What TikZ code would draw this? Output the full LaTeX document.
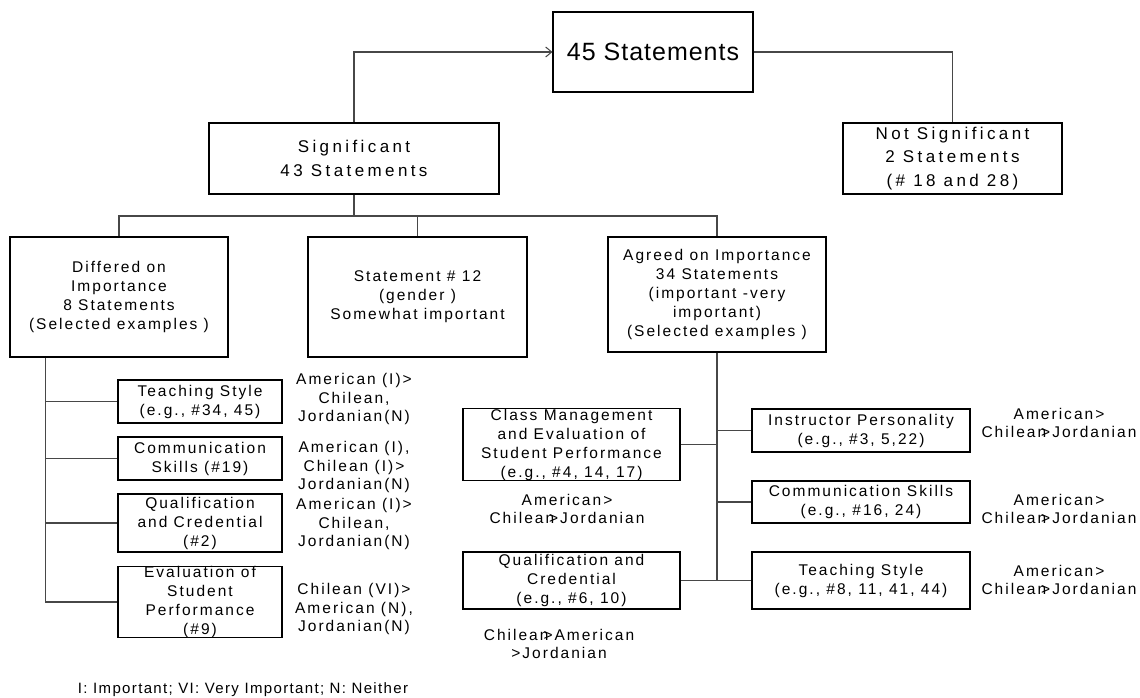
\documentclass[tikz,border=0pt]{standalone}
\usepackage{fontspec}
\setmainfont{Liberation Sans}
\newfontfamily\ftop[LetterSpace=4]{Liberation Sans}
\newfontfamily\fmid[LetterSpace=20]{Liberation Sans}
\newfontfamily\fsml[LetterSpace=13]{Liberation Sans}
\newfontfamily\ffoot[LetterSpace=9]{Liberation Sans}
\usetikzlibrary{arrows.meta}
\begin{document}
\begin{tikzpicture}[x=1pt,y=-1pt,
  box/.style={draw=black,line width=1.1pt,inner sep=0pt,align=center,
    font={\fsml\fontsize{15.5}{19}\selectfont}},
  bigbox/.style={box,font={\fmid\fontsize{17}{23.5}\selectfont}},
  lbl/.style={inner sep=0pt,align=center,font={\fsml\fontsize{15.5}{18.5}\selectfont}},
  conn/.style={draw=black!72,line width=1.3pt}]
\useasboundingbox (0,0) rectangle (1140,698);

% top level
\node[box,minimum width=200,minimum height=80,font={\ftop\fontsize{25}{28}\selectfont}] (top) at (653,52) {45 Statements};
\node[bigbox,minimum width=290,minimum height=71] (sig) at (354,158.5) {Significant\\43 Statements};
\node[bigbox,minimum width=219,minimum height=71] (notsig) at (952.5,158.5) {Not Significant\\2 Statements\\(\# 18 and 28)};

% second level
\node[box,minimum width=218,minimum height=120] (diff) at (119,297) {Differed on\\Importance\\8 Statements\\(Selected examples )};
\node[box,minimum width=219,minimum height=120] (stmt) at (417.5,297) {Statement \# 12\\(gender )\\Somewhat important};
\node[box,minimum width=218,minimum height=115] (agree) at (717,294.5) {Agreed on Importance\\34 Statements\\(important -very\\important)\\(Selected examples )};

% left branch
\node[box,minimum width=164,minimum height=43] (ts) at (200,401.5) {Teaching Style\\(e.g., \#34, 45)};
\node[box,minimum width=164,minimum height=43] (cs) at (200,458.5) {Communication\\Skills (\#19)};
\node[box,minimum width=164,minimum height=58] (qc) at (200,523) {Qualification\\and Credential\\(\#2)};
\node[box,minimum width=164,minimum height=70] (ev) at (200,602) {Evaluation of\\Student\\Performance\\(\#9)};

% right branch
\node[box,minimum width=217,minimum height=71] (cm) at (571.5,444.5) {Class Management\\and Evaluation of\\Student Performance\\(e.g., \#4, 14, 17)};
\node[box,minimum width=217,minimum height=57] (qc2) at (571.5,580.5) {Qualification and\\Credential\\(e.g., \#6, 10)};
\node[box,minimum width=218,minimum height=43] (ip) at (861,430.5) {Instructor Personality\\(e.g., \#3, 5,22)};
\node[box,minimum width=218,minimum height=42] (cs2) at (861,502) {Communication Skills\\(e.g., \#16, 24)};
\node[box,minimum width=218,minimum height=57] (ts2) at (861,580.5) {Teaching Style\\(e.g., \#8, 11, 41, 44)};

% labels
\node[lbl] (l1) at (354,399) {American (I)>\\Chilean,\\Jordanian(N)};
\node[lbl] (l2) at (354,467) {American (I),\\Chilean (I)>\\Jordanian(N)};
\node[lbl] (l3) at (354,524) {American (I)>\\Chilean,\\Jordanian(N)};
\node[lbl] (l4) at (354,609) {Chilean (VI)>\\American (N),\\Jordanian(N)};
\node[lbl] (r1) at (1059,423) {American>\\Chilean\kern-5pt>Jordanian};
\node[lbl] (r2) at (1059,509) {American>\\Chilean\kern-5pt>Jordanian};
\node[lbl] (r3) at (1059,580) {American>\\Chilean\kern-5pt>Jordanian};
\node[lbl] (c1) at (567,509) {American>\\Chilean\kern-5pt>Jordanian};
\node[lbl] (c2) at (559,644) {Chilean\kern-5pt>American\\>Jordanian};
\node[inner sep=0pt,font={\ffoot\fontsize{15}{18}\selectfont}] (foot) at (243,690) {I: Important; VI: Very Important; N: Neither};

% connectors top
\draw[conn,-{Straight Barb[length=6pt,width=10pt,line width=1pt]}] (sig.north) |- (top.west);
\draw[conn] (top.east) -| (notsig.north);
\coordinate (busy) at (0,216);
\draw[conn] (sig.south) -- (sig.south |- busy);
\draw[conn] (diff.north) -- (diff.north |- busy) -- (agree.north |- busy) -- (agree.north);
\draw[conn] (stmt.north) -- (stmt.north |- busy);

% left spine
\coordinate (lsp) at ([xshift=36pt]diff.south west);
\draw[conn] (lsp) |- (ev.west);
\draw[conn] (lsp |- ts.west) -- (ts.west);
\draw[conn] (lsp |- cs.west) -- (cs.west);
\draw[conn] (lsp |- qc.west) -- (qc.west);

% right spine
\draw[conn] (agree.south) -- (agree.south |- qc2.east);
\draw[conn] (qc2.east) -- (ts2.west);
\draw[conn] (cm.east) -- (cm.east -| agree.south);
\draw[conn] (ip.west -| agree.south) -- (ip.west);
\draw[conn] (cs2.west -| agree.south) -- (cs2.west);
\end{tikzpicture}
\end{document}
